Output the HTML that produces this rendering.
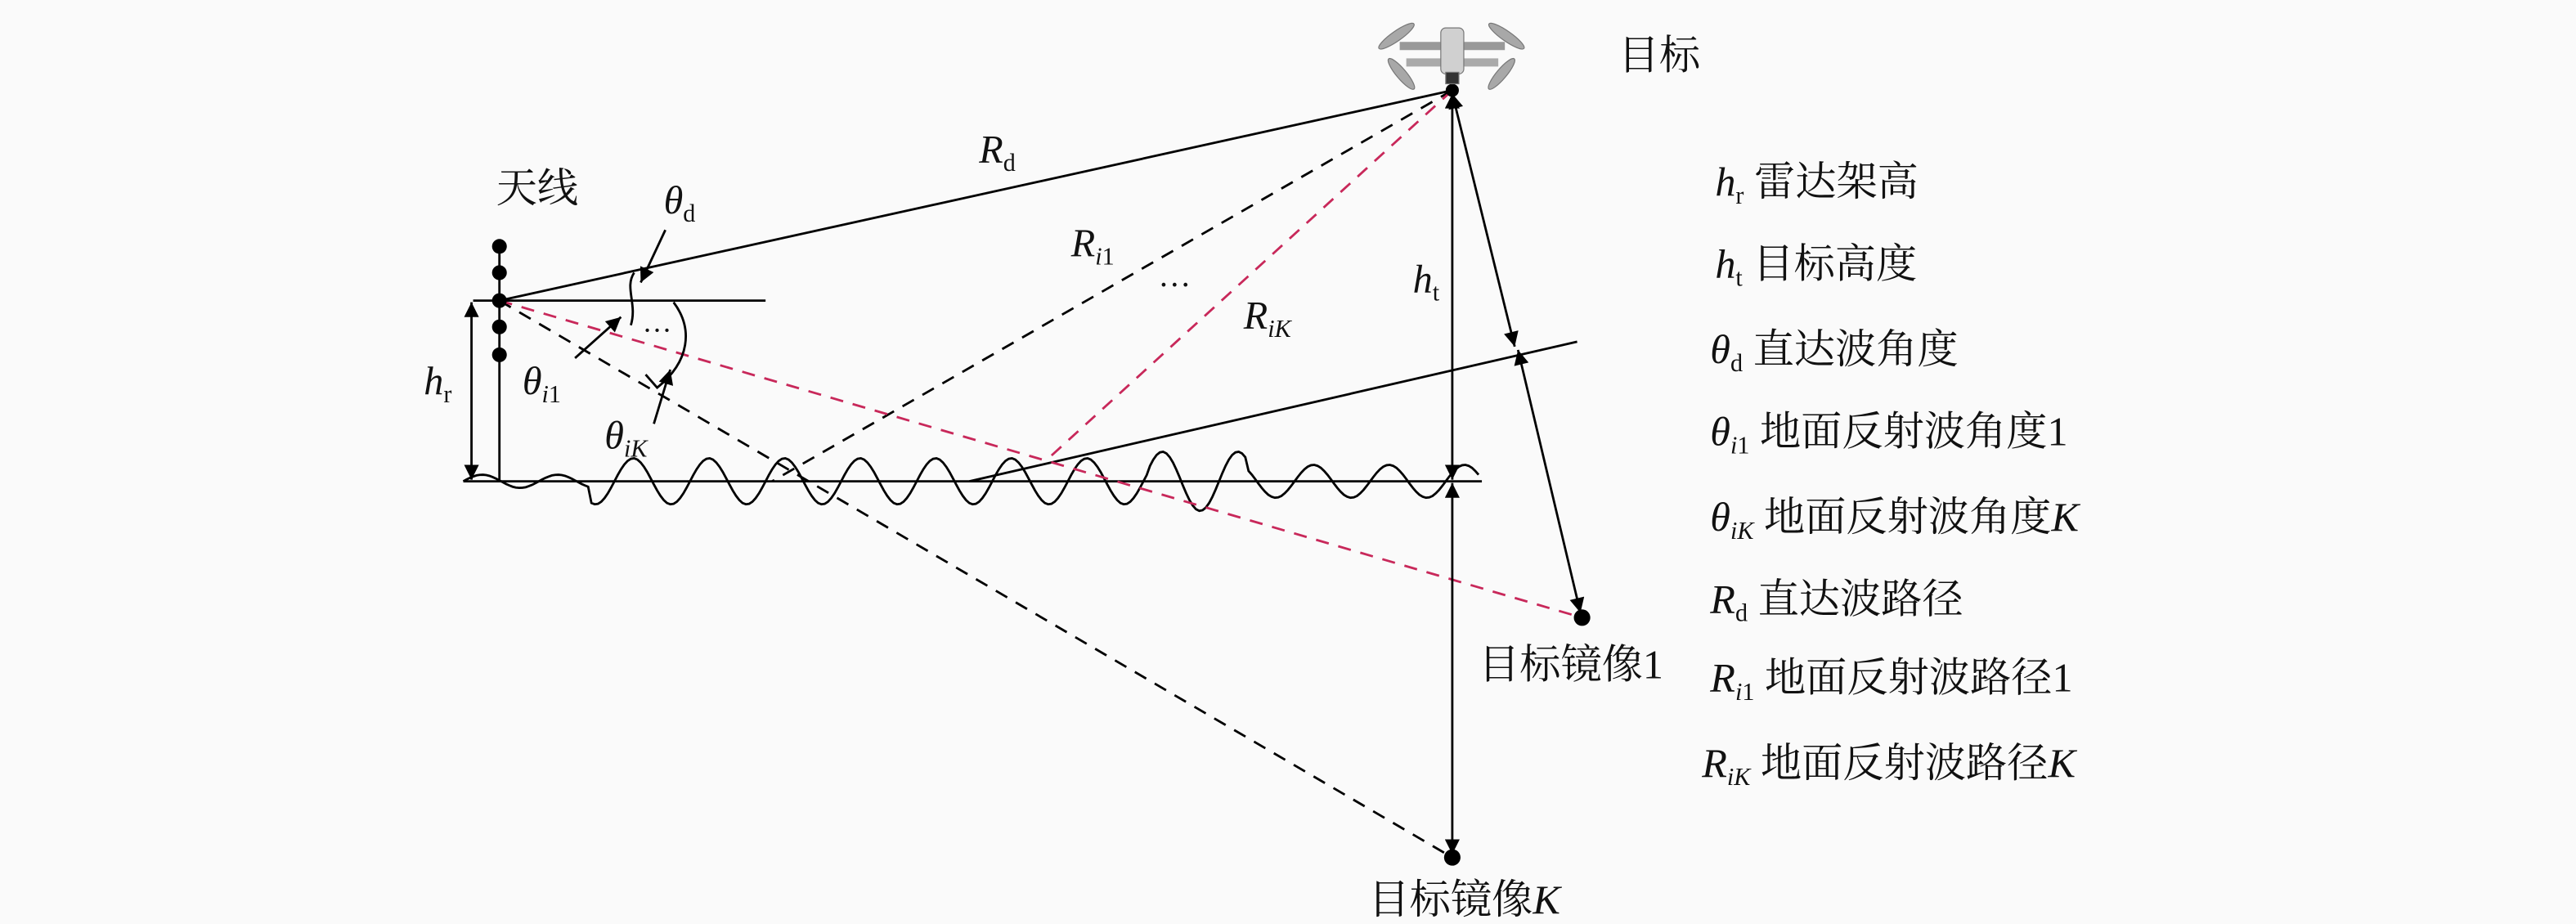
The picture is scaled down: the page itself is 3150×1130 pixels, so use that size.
<!DOCTYPE html>
<html><head><meta charset="utf-8"><style>
html,body{margin:0;padding:0;background:#fafafa;}
svg{display:block;}
text{font-family:"Liberation Serif","Noto Serif CJK SC",serif;fill:#111;}
.cn{font-family:"Liberation Serif","Noto Serif CJK SC",serif;}
.it{font-style:italic;}
</style></head><body>
<svg width="3150" height="1130" viewBox="0 0 1568 562.5" preserveAspectRatio="none" xmlns="http://www.w3.org/2000/svg">
<defs>
<marker id="ab" viewBox="0 0 10 10" refX="10" refY="5" markerWidth="16" markerHeight="9" orient="auto-start-reverse" markerUnits="userSpaceOnUse"><path d="M0,0 L10,5 L0,10 z" fill="#000"/></marker>
</defs>
<rect width="1568" height="562.5" fill="#fafafa"/>
<g stroke="#000" stroke-width="1.4" fill="none">
<line x1="304" y1="150" x2="304" y2="293"/>
<line x1="288" y1="183" x2="466" y2="183"/>
<line x1="282" y1="293" x2="902" y2="293"/>
<path id="wave" d=""/>
<line x1="304" y1="183" x2="884" y2="55"/>
<line x1="590" y1="293" x2="960" y2="208"/>
<line x1="304" y1="183" x2="884" y2="522" stroke-dasharray="8,6"/>
<line x1="884" y1="55" x2="470" y2="293" stroke-dasharray="8,6"/>
<line x1="304" y1="183" x2="963" y2="376" stroke="#c8285a" stroke-dasharray="8,6"/>
<line x1="884" y1="55" x2="636" y2="281" stroke="#c8285a" stroke-dasharray="8,6"/>
<line x1="287" y1="184" x2="287" y2="292" marker-start="url(#ab)" marker-end="url(#ab)"/>
<line x1="884" y1="57" x2="884" y2="292" marker-start="url(#ab)" marker-end="url(#ab)"/>
<line x1="884" y1="294" x2="884" y2="520" marker-start="url(#ab)" marker-end="url(#ab)"/>
<line x1="884" y1="57" x2="922" y2="211" marker-start="url(#ab)" marker-end="url(#ab)"/>
<line x1="924" y1="213" x2="962" y2="373" marker-start="url(#ab)" marker-end="url(#ab)"/>
<path d="M386,166 C380,175 388,185 384,198"/>
<path d="M410,184 C422,200 420,220 400,236 L393,228"/>
<line x1="405" y1="140" x2="390" y2="172" marker-end="url(#ab)"/>
<line x1="350" y1="218" x2="378" y2="193" marker-end="url(#ab)"/>
<line x1="398" y1="258" x2="408" y2="225" marker-end="url(#ab)"/>
</g>
<g fill="#000">
<circle cx="304" cy="150" r="4.5"/><circle cx="304" cy="166" r="4.5"/><circle cx="304" cy="183" r="4.5"/><circle cx="304" cy="199" r="4.5"/><circle cx="304" cy="216" r="4.5"/>
<circle cx="884" cy="55" r="4"/><circle cx="963" cy="376" r="5"/><circle cx="884" cy="522" r="5"/>
</g>
<g fill="#a8a8a8" stroke="#777" stroke-width="0.6">
<line x1="852" y1="28" x2="916" y2="28" stroke="#999" stroke-width="5"/>
<line x1="856" y1="38" x2="912" y2="38" stroke="#aaa" stroke-width="5"/>
<ellipse cx="850" cy="22" rx="13" ry="3" transform="rotate(-35 850 22)"/>
<ellipse cx="917" cy="22" rx="13" ry="3" transform="rotate(35 917 22)"/>
<ellipse cx="853" cy="45" rx="12" ry="3" transform="rotate(50 853 45)"/>
<ellipse cx="914" cy="45" rx="12" ry="3" transform="rotate(-50 914 45)"/>
<rect x="877" y="17" width="14" height="28" rx="3" fill="#d0d0d0"/>
<rect x="880" y="44" width="8" height="7" fill="#333"/>
</g>
<text class="cn" x="302" y="123" font-size="25">天线</text>
<text class="cn" x="985" y="42" font-size="25">目标</text>
<text class="cn" x="900" y="413" font-size="25">目标镜像1</text>
<text class="cn" x="833" y="556" font-size="25">目标镜像<tspan class="it">K</tspan></text>
<text x="596" y="99" font-size="24" class="it">R<tspan font-size="15" font-style="normal" dy="5">d</tspan></text>
<text x="652" y="156" font-size="24" class="it">R<tspan font-size="15" dy="5">i</tspan><tspan font-size="15" font-style="normal">1</tspan></text>
<text x="757" y="200" font-size="24" class="it">R<tspan font-size="15" dy="5">iK</tspan></text>
<text x="705" y="180" font-size="20">···</text>
<text x="391" y="207" font-size="18">···</text>
<text x="404" y="130" font-size="24" class="it">θ<tspan font-size="15" font-style="normal" dy="5">d</tspan></text>
<text x="318" y="240" font-size="24" class="it">θ<tspan font-size="15" dy="5">i</tspan><tspan font-size="15" font-style="normal">1</tspan></text>
<text x="368" y="273" font-size="24" class="it">θ<tspan font-size="15" dy="5">iK</tspan></text>
<text x="258" y="240" font-size="24" class="it">h<tspan font-size="15" font-style="normal" dy="5">r</tspan></text>
<text x="860" y="178" font-size="24" class="it">h<tspan font-size="15" font-style="normal" dy="5">t</tspan></text>
<g font-size="25">
<text x="1044" y="119"><tspan class="it">h</tspan><tspan font-size="15" dy="5">r</tspan><tspan dy="-5" class="cn"> 雷达架高</tspan></text>
<text x="1044" y="169"><tspan class="it">h</tspan><tspan font-size="15" dy="5">t</tspan><tspan dy="-5" class="cn"> 目标高度</tspan></text>
<text x="1041" y="221"><tspan class="it">θ</tspan><tspan font-size="15" dy="5">d</tspan><tspan dy="-5" class="cn"> 直达波角度</tspan></text>
<text x="1041" y="271"><tspan class="it">θ</tspan><tspan font-size="15" dy="5" class="it">i</tspan><tspan font-size="15">1</tspan><tspan dy="-5" class="cn"> 地面反射波角度1</tspan></text>
<text x="1041" y="323"><tspan class="it">θ</tspan><tspan font-size="15" dy="5" class="it">iK</tspan><tspan dy="-5" class="cn"> 地面反射波角度</tspan><tspan class="it">K</tspan></text>
<text x="1041" y="373"><tspan class="it">R</tspan><tspan font-size="15" dy="5">d</tspan><tspan dy="-5" class="cn"> 直达波路径</tspan></text>
<text x="1041" y="421"><tspan class="it">R</tspan><tspan font-size="15" dy="5" class="it">i</tspan><tspan font-size="15">1</tspan><tspan dy="-5" class="cn"> 地面反射波路径1</tspan></text>
<text x="1036" y="473"><tspan class="it">R</tspan><tspan font-size="15" dy="5" class="it">iK</tspan><tspan dy="-5" class="cn"> 地面反射波路径</tspan><tspan class="it">K</tspan></text>
</g>
</svg>
<script>
(function(){
var d="M282,293",x;
for(x=282;x<=900;x+=2){
 var t=(x-282);
 var amp=(x<360)?4:(x<700?14:(x<760?18:10));
 var y=293-amp*Math.sin(t*2*Math.PI/46);
 d+=" L"+x+","+y.toFixed(1);
}
document.getElementById("wave").setAttribute("d",d);
})();
</script>
</body></html>
